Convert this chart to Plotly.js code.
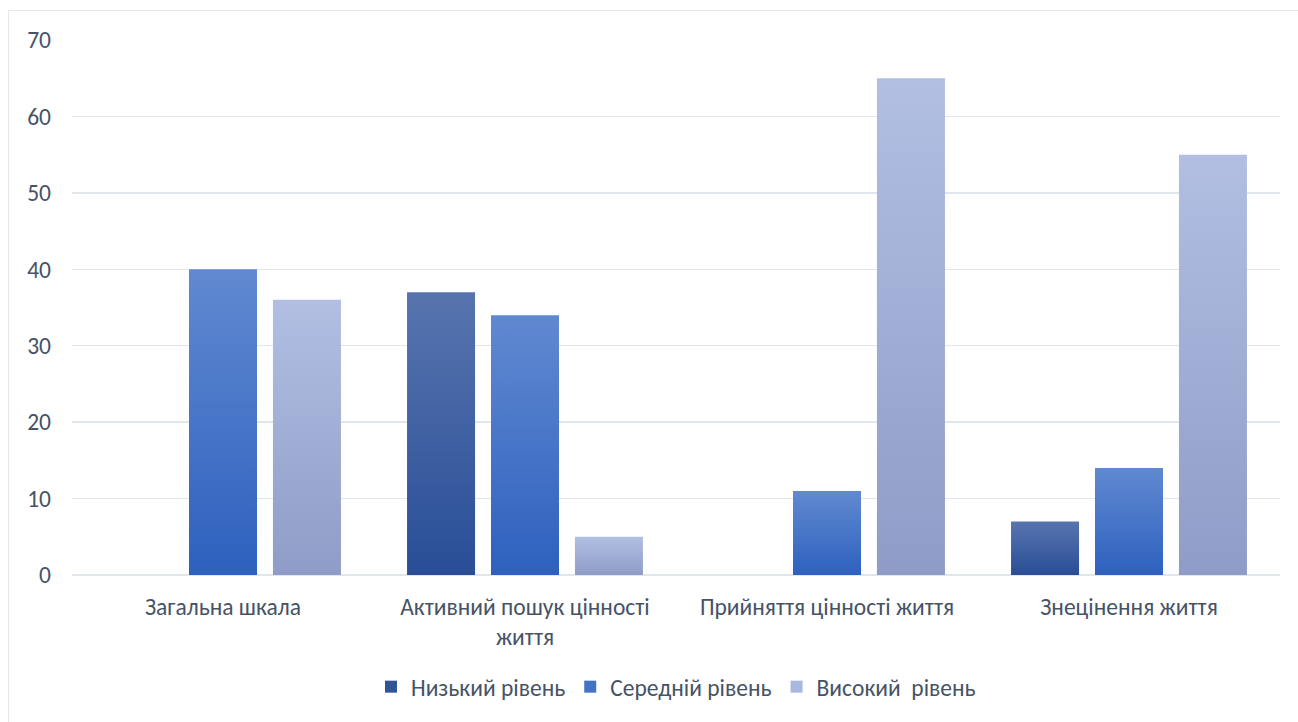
<!DOCTYPE html>
<html>
<head>
<meta charset="utf-8">
<script src="https://cdn.plot.ly/plotly-3.0.1.min.js"></script>
<style>
  html, body { margin: 0; padding: 0; background: #ffffff; }
  #wrap { position: relative; width: 1298px; height: 722px; overflow: hidden; }
  #frame { position: absolute; left: 8px; top: 10px; width: 1400px; height: 800px;
           border: 1.5px solid #e3e7ee; box-sizing: border-box; pointer-events: none; }
  #chart { position: absolute; left: 0; top: 0; width: 1298px; height: 722px; }
</style>
</head>
<body>
<div id="wrap">
  <div id="frame"></div>
  <div id="chart"></div>
</div>
<script>
// Scales of the questionnaire
const categories = [
  'Загальна шкала',
  'Активний пошук цінності<br>життя',
  'Прийняття цінності життя',
  'Знецінення життя'
];

// Share of respondents per level
const lowLevel = [0, 37, 0, 7];
const midLevel = [40, 34, 11, 14];
const highLevel = [36, 5, 65, 55];

const seriesNames = ['Низький рівень', 'Середній рівень', 'Високий  рівень'];
const yTicks = [0, 10, 20, 30, 40, 50, 60, 70];

// vertical gradients per series: [top, bottom, legend swatch]
const fills = [
  ['#5774ae', '#294e97', '#2f5597'],
  ['#6189d1', '#2d61be', '#4472c4'],
  ['#b2bfe3', '#8e9cc7', '#a9b8df']
];

const FONT = 'Carlito, Lato, "Open Sans", sans-serif';
const TEXT = '#465367';
const FS_Y = 23.5;
const FS_X = 23.5;

const traces = [lowLevel, midLevel, highLevel].map((vals, i) => ({
  type: 'bar',
  name: seriesNames[i],
  x: categories,
  y: vals,
  marker: { color: fills[i][2], line: { width: 0 } },
  hoverinfo: 'x+y+name'
}));

const layout = {
  width: 1298,
  height: 722,
  margin: { l: 72, r: 18, t: 40, b: 147, autoexpand: false },
  paper_bgcolor: 'rgba(0,0,0,0)',
  plot_bgcolor: 'rgba(0,0,0,0)',
  barmode: 'group',
  bargap: 0.166,
  bargroupgap: 0.19,
  font: { family: FONT, size: FS_X, color: TEXT },
  xaxis: {
    type: 'category',
    showgrid: false,
    showline: false,
    zeroline: false,
    ticks: '',
    ticklabelstandoff: 15,
    tickfont: { family: FONT, size: FS_X, color: TEXT },
    automargin: false
  },
  yaxis: {
    range: [0, 70],
    tickvals: yTicks,
    ticktext: yTicks.map(String),
    showgrid: true,
    gridcolor: '#e1e5ec',
    gridwidth: 1.5,
    zeroline: true,
    zerolinecolor: '#e1e5ec',
    zerolinewidth: 1.5,
    showline: false,
    ticks: '',
    ticklabelstandoff: 20,
    tickfont: { family: FONT, size: FS_Y, color: TEXT },
    automargin: false
  },
  showlegend: true,
  legend: {
    orientation: 'h',
    x: 0.5,
    xanchor: 'center',
    y: -0.168,
    yanchor: 'top',
    font: { family: FONT, size: FS_X, color: TEXT },
    itemwidth: 30,
    tracegroupgap: 0,
    bgcolor: 'rgba(0,0,0,0)'
  }
};

// paint each bar with its series gradient
function applyGradients(gd) {
  const svg = gd.querySelector('svg.main-svg');
  let defs = svg.querySelector('defs');
  if (!defs) {
    defs = document.createElementNS('http://www.w3.org/2000/svg', 'defs');
    svg.insertBefore(defs, svg.firstChild);
  }
  fills.forEach((f, i) => {
    const id = 'barGrad' + i;
    if (!defs.querySelector('#' + id)) {
      const g = document.createElementNS('http://www.w3.org/2000/svg', 'linearGradient');
      g.setAttribute('id', id);
      g.setAttribute('x1', '0'); g.setAttribute('y1', '0');
      g.setAttribute('x2', '0'); g.setAttribute('y2', '1');
      [[0, f[0]], [1, f[1]]].forEach(([o, c]) => {
        const s = document.createElementNS('http://www.w3.org/2000/svg', 'stop');
        s.setAttribute('offset', String(o));
        s.setAttribute('stop-color', c);
        g.appendChild(s);
      });
      defs.appendChild(g);
    }
  });
  gd.querySelectorAll('.barlayer .trace.bars').forEach((tr, i) => {
    tr.querySelectorAll('.point path').forEach(p => {
      p.style.fill = 'url(#barGrad' + (i % fills.length) + ')';
    });
  });
}

const gd = document.getElementById('chart');
Plotly.newPlot(gd, traces, layout, { displayModeBar: false, staticPlot: true }).then(() => {
  applyGradients(gd);
  gd.on('plotly_afterplot', () => applyGradients(gd));
});
</script>
</body>
</html>
